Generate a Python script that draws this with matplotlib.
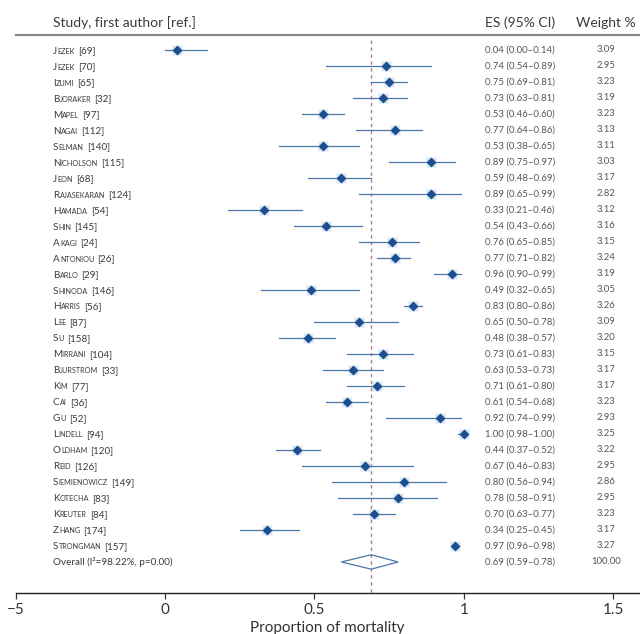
import matplotlib
matplotlib.use("Agg")
import matplotlib.pyplot as plt
from matplotlib.font_manager import FontProperties, findfont, get_font
from matplotlib.ft2font import LoadFlags

# study names, reference numbers
names = ["Jezek", "Jezek", "Izumi", "Bjoraker", "Mapel", "Nagai", "Selman", "Nicholson",
         "Jeon", "Rajasekaran", "Hamada", "Shin", "Akagi", "Antoniou", "Barlo", "Shinoda",
         "Harris", "Lee", "Su", "Mirrani", "Bjurstrom", "Kim", "Cai", "Gu", "Lindell",
         "Oldham", "Reid", "Siemienowicz", "Kotecha", "Kreuter", "Zhang", "Strongman"]
refs = [69, 70, 65, 32, 97, 112, 140, 115, 68, 124, 54, 145, 24, 26, 29, 146,
        56, 87, 158, 104, 33, 77, 36, 52, 94, 120, 126, 149, 83, 84, 174, 157]
es = [0.04, 0.74, 0.75, 0.73, 0.53, 0.77, 0.53, 0.89, 0.59, 0.89, 0.33, 0.54, 0.76, 0.77,
      0.96, 0.49, 0.83, 0.65, 0.48, 0.73, 0.63, 0.71, 0.61, 0.92, 1.00, 0.44, 0.67, 0.80,
      0.78, 0.70, 0.34, 0.97]
lo = [0.00, 0.54, 0.69, 0.63, 0.46, 0.64, 0.38, 0.75, 0.48, 0.65, 0.21, 0.43, 0.65, 0.71,
      0.90, 0.32, 0.80, 0.50, 0.38, 0.61, 0.53, 0.61, 0.54, 0.74, 0.98, 0.37, 0.46, 0.56,
      0.58, 0.63, 0.25, 0.96]
hi = [0.14, 0.89, 0.81, 0.81, 0.60, 0.86, 0.65, 0.97, 0.69, 0.99, 0.46, 0.66, 0.85, 0.82,
      0.99, 0.65, 0.86, 0.78, 0.57, 0.83, 0.73, 0.80, 0.68, 0.99, 1.00, 0.52, 0.83, 0.94,
      0.91, 0.77, 0.45, 0.98]
weights = [3.09, 2.95, 3.23, 3.19, 3.23, 3.13, 3.11, 3.03, 3.17, 2.82, 3.12, 3.16, 3.15, 3.24,
           3.19, 3.05, 3.26, 3.09, 3.20, 3.15, 3.17, 3.17, 3.23, 2.93, 3.25, 3.22, 2.95, 2.86,
           2.95, 3.23, 3.17, 3.27]
overall_es, overall_lo, overall_hi, overall_w = 0.69, 0.59, 0.78, 100.00
overall_label = "Overall (I²=98.22%, p=0.00)"

xticks = [-0.5, 0, 0.5, 1, 1.5]
xtick_labels = ["\u22125", "0", "0.5", "1", "1.5"]

FAMILY = "Lato"
plt.rcParams["font.family"] = [FAMILY, "DejaVu Sans"]

LINE = "#4a77a8"
DOT = "#1b4f8e"
HALO = "#a9c8ec"
TXT = "#3a3a3a"
NUM = "#555555"

fig = plt.figure(figsize=(6.4, 6.34), dpi=100)
ax = fig.add_axes([15.5 / 640, 1 - 593 / 634, 1 - 15.5 / 640, (593 - 10) / 634])
ax.set_xlim(-0.5, 1.589)
ax.set_ylim(33.94, -2.5)

x_name, x_es, x_w = -0.375, 1.07, 1.475
fs = 7.1
font = get_font(findfont(FontProperties(family=FAMILY)))


def advance(s, size):
    # advance width in points, so the small-caps pieces line up evenly
    font.set_size(size, 72)
    return sum(font.load_char(ord(c), flags=LoadFlags.NO_HINTING).linearHoriAdvance
               for c in s) / 65536


def small_caps(y, name, ref):
    sc = fs * 0.74
    rest = name[1:].upper()
    first_w = advance(name[0], fs) + 0.3
    pieces = [(name[0], fs, 0.0),
              (rest, sc, first_w),
              (f"[{ref}]", fs, first_w + advance(rest, sc) + 2.0)]
    for s, size, dx in pieces:
        ax.annotate(s, xy=(x_name, y), xycoords="data", xytext=(dx, 0),
                    textcoords="offset points", fontsize=size, color=TXT,
                    va="baseline", ha="left")


for i in range(len(names)):
    ax.plot([lo[i], hi[i]], [i, i], color=LINE, lw=0.9, zorder=2)
    ax.plot(es[i], i, marker="s", ms=7.5, color=HALO, mec="none", alpha=0.45, zorder=3)
    ax.plot(es[i], i, marker="D", ms=5.2, color=DOT, mec="none", zorder=4)
    small_caps(i + 0.22, names[i], refs[i])
    ax.text(x_es, i, f"{es[i]:.2f} ({lo[i]:.2f}\u2013{hi[i]:.2f})", fontsize=fs - 0.2,
            color=NUM, va="center", ha="left")
    ax.text(x_w, i, f"{weights[i]:.2f}", fontsize=fs - 0.2, color=NUM, va="center", ha="center")

n = len(names)
ax.fill([overall_lo, overall_es, overall_hi, overall_es, overall_lo],
        [n, n - 0.45, n, n + 0.45, n], facecolor="none", edgecolor=LINE, lw=0.9, zorder=3)
ax.text(x_name, n, overall_label, fontsize=fs, color=TXT, va="center", ha="left")
ax.text(x_es, n, f"{overall_es:.2f} ({overall_lo:.2f}\u2013{overall_hi:.2f})", fontsize=fs - 0.2,
        color=NUM, va="center", ha="left")
ax.text(x_w, n, f"{overall_w:.2f}", fontsize=fs - 0.2, color=NUM, va="center", ha="center")

ax.plot([overall_es, overall_es], [-0.6, 33.94], color="#b08089", lw=1.0,
        ls=(0, (2.5, 2.5)), zorder=1)

# header
ax.text(x_name, -1.7, "Study, first author [ref.]", fontsize=10, color=TXT, va="center", ha="left")
ax.text(x_es, -1.7, "ES (95% CI)", fontsize=10, color=TXT, va="center", ha="left")
ax.text(x_w, -1.7, "Weight %", fontsize=10, color=TXT, va="center", ha="center")
ax.plot([-0.5, 1.589], [-0.94, -0.94], color="#8a8a8a", lw=1.6, clip_on=False)

for s in ["top", "right", "left"]:
    ax.spines[s].set_visible(False)
ax.spines["bottom"].set_color("#222222")
ax.spines["bottom"].set_linewidth(1.0)
ax.set_yticks([])
ax.set_xticks(xticks)
ax.set_xticklabels(xtick_labels)
ax.tick_params(axis="x", labelsize=11, colors="#333333", length=4, width=0.9, pad=3)
ax.set_xlabel("Proportion of mortality", fontsize=11, color="#333333", labelpad=3)

fig.savefig("out.png", dpi=100)
